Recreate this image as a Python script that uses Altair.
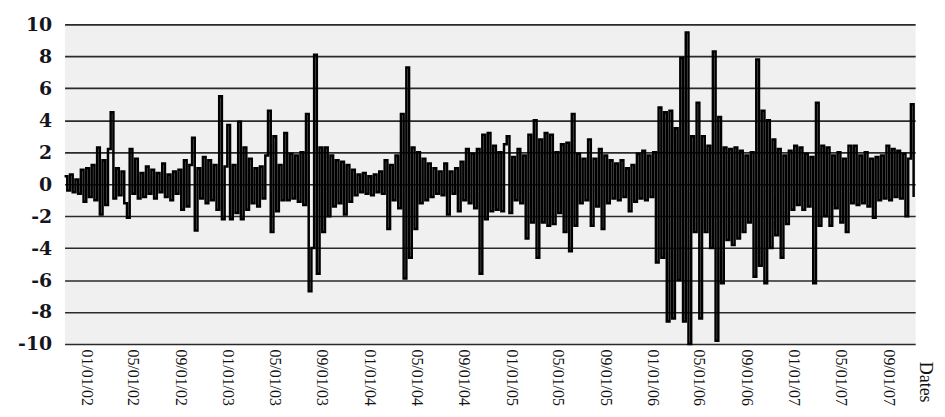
import altair as alt
import pandas as pd

# weekly returns (%)
vals_a = [0.5, -0.4, 0.6, -0.5, 0.3, -0.6, 0.9, -1.1, 1.0, -0.8,
          1.2, -1.0, 2.3, -1.9, 1.5, -1.3, 2.2, 4.5, -0.9, 1.0,
          -0.7, 0.8, -1.2, -2.1, 2.2, -0.6, 1.6, -0.9, 0.7, -0.8,
          1.1, -0.6, 0.9, -0.9, 0.7, -0.5, 1.3, -0.8, 0.6, -1.0,
          0.8, -0.6, 0.9, -1.6, 1.5, -1.4, 1.2, 2.9, -2.9, 1.0,
          -0.9, 1.7]
vals_b = [-1.2, 1.5, -1.0, 1.2, -1.6, 5.5, -2.2, 1.1, 3.7, -2.2,
          1.2, -1.8, 3.9, -2.2, 2.3, -1.6, 1.6, -1.2, 1.0, -1.4,
          1.1, -0.9, 1.8, 4.6, -3.0, 3.0, -1.7, 1.2, -1.0, 3.2,
          -1.0, 1.9, -0.9, 1.8, -1.1, 2.0, -1.3, 4.4, -6.7, -4.0,
          8.1, -5.6, 2.3, -3.0, 2.3, -2.0, 1.8, -1.4, 1.5, -1.2,
          1.4, -1.9]
vals_c = [1.2, -1.1, 0.9, -0.7, 0.6, -0.5, 0.7, -0.6, 0.5, -0.7,
          0.6, -0.5, 0.8, -0.6, 1.5, -2.8, 1.2, -1.0, 1.8, -1.5,
          4.4, -5.9, 7.3, -4.6, 2.3, -2.8, 2.0, -1.2, 1.6, -1.0,
          1.3, -0.8, 1.0, -0.6, 0.8, -0.7, 1.3, -1.9, 0.8, -0.6,
          1.0, -1.7, 1.4, -1.0, 2.2, -1.2, 1.9, -1.5, 2.2, -5.6,
          3.1, -2.2]
vals_d = [3.2, -1.7, 2.4, -1.6, 2.0, -1.7, 2.5, 3.0, -1.8, 1.7,
          -1.0, 2.2, -1.2, 1.8, -3.4, 3.1, -2.4, 4.0, -4.6, 2.8,
          -2.4, 3.2, -2.6, 3.1, -2.5, 2.0, -1.8, 2.5, -3.0, 2.6,
          -4.2, 4.4, -2.6, 1.9, -1.2, 1.6, -1.0, 2.8, -2.6, 1.6,
          -1.4, 2.2, -2.8, 1.8, -1.2, 1.5, -0.9, 1.3, -1.0, 1.5,
          -0.8, 1.0]
vals_e = [-1.7, 1.2, -1.1, 1.9, -0.9, 2.1, -1.0, 1.8, -0.8, 2.0,
          -4.9, 4.8, -4.6, 4.5, -8.6, 4.6, -8.4, 3.5, -6.0, 7.9,
          -8.6, 9.5, -10.0, 3.0, -3.0, 5.1, -8.4, 3.0, -3.0, 2.4,
          -4.0, 8.3, -9.8, 4.2, -6.2, 2.3, -3.5, 2.2, -3.8, 2.3,
          -3.4, 2.1, -3.0, 1.8, -2.4, 2.0, -5.8, 7.8, -5.1, 4.6,
          -6.2, 4.0]
vals_f = [-4.0, 2.8, -3.2, 2.2, -4.6, 1.8, -2.5, 2.1, -1.6, 2.4,
          -1.3, 2.3, -1.6, 1.9, -1.4, 1.7, -6.2, 5.1, -2.6, 2.4,
          -2.0, 2.3, -2.6, 1.8, -1.5, 2.0, -2.4, 1.6, -3.0, 2.4,
          -1.2, 2.4, -1.3, 1.8, -1.2, 2.0, -1.4, 1.6, -2.1, 1.7,
          -1.0, 1.8, -0.9, 2.4, -1.0, 2.2, -0.8, 2.1, -0.9, 1.9,
          -2.0, 1.6, 5.0, -0.8]

values = vals_a + vals_b + vals_c + vals_d + vals_e + vals_f
dates = pd.date_range("2001-11-06", periods=len(values), freq="7D")
df = pd.DataFrame({"date": dates.strftime("%Y-%m-%d"), "ret": values})

tick_dates = [(2002, 1), (2002, 5), (2002, 9), (2003, 1), (2003, 5), (2003, 9),
              (2004, 1), (2004, 5), (2004, 9), (2005, 1), (2005, 5), (2005, 9),
              (2006, 1), (2006, 5), (2006, 9), (2007, 1), (2007, 5), (2007, 9)]
y_ticks = list(range(-10, 11, 2))

x_axis = alt.Axis(
    values=[alt.DateTime(year=y, month=m, date=1) for y, m in tick_dates],
    format="%m/%d/%y",
    labelAngle=90, labelAlign="left", labelBaseline="middle",
    labelFont="Liberation Serif", labelFontSize=16, labelColor="#111111",
    labelPadding=5, labelOverlap=False, labelFlush=False, labelBound=False,
    ticks=False, domain=False, grid=False,
    title="Dates", titleAngle=90, titleX=866, titleY=38,
    titleAlign="center", titleBaseline="middle",
    titleFont="Liberation Serif", titleFontSize=18, titleFontWeight="normal",
    titleColor="#111111",
)
y_axis = alt.Axis(
    values=y_ticks, labelExpr="'' + datum.value",
    labelFont="DejaVu Serif", labelFontWeight="bold", labelFontSize=19,
    labelColor="#151520", labelPadding=13,
    ticks=False, domain=False, grid=True, gridColor="#2a2a2a", gridWidth=1.6,
    title=None,
)

chart = (
    alt.Chart(df)
    .mark_line(color="black", strokeWidth=2.5, interpolate="step-after")
    .encode(
        x=alt.X("date:T",
                scale=alt.Scale(domain=[alt.DateTime(year=2001, month=11, date=6),
                                        alt.DateTime(year=2007, month=11, date=10)]),
                axis=x_axis),
        y=alt.Y("ret:Q", scale=alt.Scale(domain=[-10, 10], nice=False, zero=False),
                axis=y_axis),
    )
    .properties(width=857, height=322, autosize="none",
                padding={"left": 57, "top": 15, "right": 22, "bottom": 64})
    .configure_view(fill="#f0f0f0", stroke="transparent")
)

chart.save("out.html", embed_options={"renderer": "svg", "actions": False})
